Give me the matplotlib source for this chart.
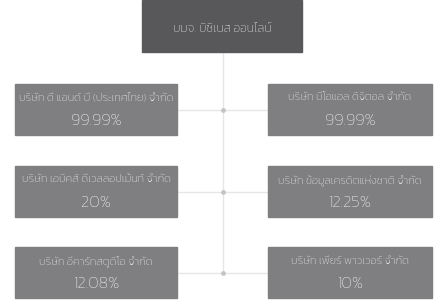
import matplotlib
matplotlib.use('Agg')
import matplotlib.pyplot as plt
from matplotlib.patches import Rectangle

plt.rcParams['font.family'] = ['Kanit', 'DejaVu Sans']

parent = 'บมจ. บิซิเนส ออนไลน์'
left_names = ['บริษัท ดี แอนด์ บี (ประเทศไทย) จำกัด',
              'บริษัท เอบิคส์ ดีเวลลอปเม้นท์ จำกัด',
              'บริษัท อีคาร์ทสตูดิโอ จำกัด']
left_share = ['99.99%', '20%', '12.08%']
right_names = ['บริษัท บีโอแอล ดิจิตอล จำกัด',
               'บริษัท ข้อมูลเครดิตแห่งชาติ จำกัด',
               'บริษัท เพียร์ พาวเวอร์ จำกัด']
right_share = ['99.99%', '12.25%', '10%']

row_top = [84, 166, 247]
box_h = 51

fig = plt.figure(figsize=(4.34, 3.0), dpi=100)
ax = fig.add_axes([0, 0, 1, 1])
ax.set_xlim(0, 434)
ax.set_ylim(300, 0)
ax.axis('off')

line_c = '#e6e6e6'
cx = 222.5
mids = [t + box_h / 2 for t in row_top]

# connectors
ax.plot([cx, cx], [52, mids[-1]], color=line_c, lw=1, zorder=1)
for m in mids:
    ax.plot([177, 268], [m, m], color=line_c, lw=1, zorder=1)
    ax.scatter([cx], [m], s=12, color='#c4c4c4', zorder=2, linewidths=0)

# parent box
ax.add_patch(Rectangle((142, 0), 160, 52, color='#58585a', zorder=3))
ax.text(222, 29, parent, color='white', fontsize=8.8, fontweight='light',
        ha='center', va='center', zorder=4)

for i in range(3):
    top = row_top[i]
    for x0, w, name, share in [(15, 162, left_names[i], left_share[i]),
                               (268, 164, right_names[i], right_share[i])]:
        ax.add_patch(Rectangle((x0, top), w, box_h, color='#7f7f81', zorder=3))
        ax.text(x0 + w / 2, top + 14, name, color='white', fontsize=8,
                fontweight='light', ha='center', va='center', zorder=4)
        ax.text(x0 + w / 2, top + 37, share, color='white', fontsize=12,
                fontweight='light', ha='center', va='center', zorder=4)

fig.savefig('out.png', dpi=100)
